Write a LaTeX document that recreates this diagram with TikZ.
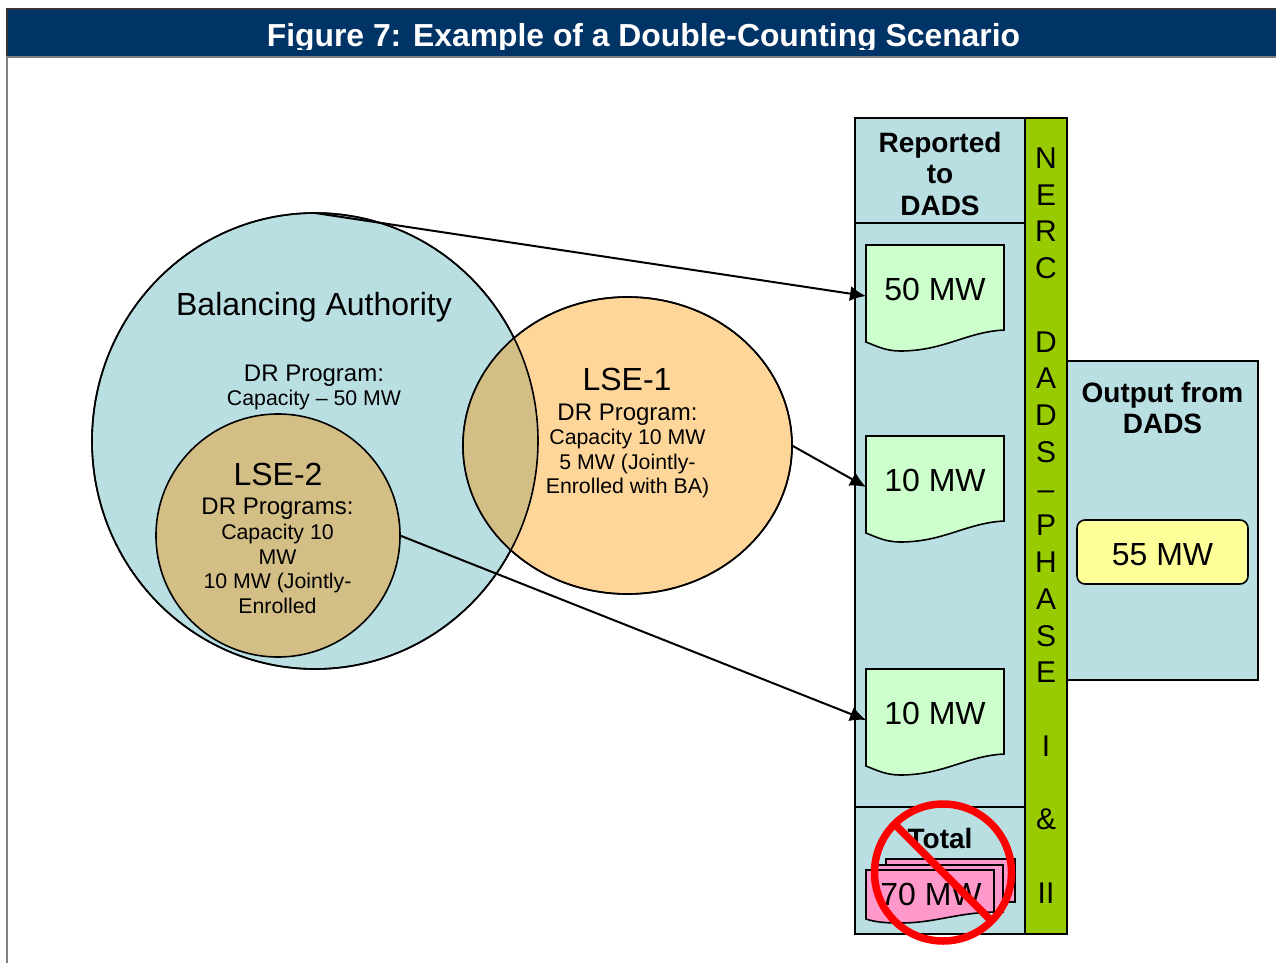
\documentclass[tikz,border=0pt]{standalone}
\usepackage{fontspec}
\setmainfont{Liberation Sans}
\usepackage{tikz}
\usetikzlibrary{calc,shapes.geometric,arrows.meta}

\definecolor{bandblue}{HTML}{003366}
\definecolor{panelblue}{HTML}{B9DFE3}
\definecolor{lseorange}{HTML}{FFD699}
\definecolor{lsetan}{HTML}{D3BE85}
\definecolor{stripgreen}{HTML}{99CC00}
\definecolor{docgreen}{HTML}{CCFFCC}
\definecolor{docpink}{HTML}{FF99CC}
\definecolor{boxyellow}{HTML}{FFFF99}

\tikzset{
    outline/.style={draw=black,line width=1.6pt},
    bigtext/.style={font=\fontsize{32}{36}\selectfont,align=center,inner sep=0pt},
    smalltext/.style={font=\fontsize{21.3}{24.6}\selectfont,align=center,inner sep=0pt},
    headtext/.style={font=\fontsize{28}{31.5}\selectfont\bfseries,align=center,inner sep=0pt},
    link/.style={line width=2pt,-{Latex[length=16pt,width=15pt]}},
    docbox/.style={minimum width=138pt,minimum height=102pt,inner sep=0pt,outer sep=0pt,font=\fontsize{32}{36}\selectfont},
    region/.style={ellipse,inner sep=0pt,outer sep=0pt,outline}
}

% first line of a region text is set larger
\newcommand{\leadline}[1]{{\fontsize{24}{24.6}\selectfont #1}}

% wavy sheet, top left corner at #1,#2
\newcommand{\sheet}[3]{%
    \begin{scope}[shift={(#1,#2)}]
        \filldraw[outline,fill=#3] (0,0) -- (138,0) -- (138,85)
            .. controls (100,87) and (78,106) .. (34,106)
            .. controls (20,106) and (10,101) .. (0,97) -- cycle;
    \end{scope}
}

\begin{document}
\begin{tikzpicture}[x=1pt,y=-1pt]
    \useasboundingbox (0,0) rectangle (1276,963);

    % header band
    \draw[line width=2pt,draw=gray] (7,963) -- (7,57) -- (1276,57);
    \fill[bandblue] (7,9) rectangle (1276,56);
    \draw[line width=1.2pt,draw=black!80] (7,56) -- (7,9) -- (1276,9);
    \begin{scope}
        \clip (7,9) rectangle (1276,50);
        \node (title) at (643.5,38) [font=\fontsize{31.85}{36}\selectfont\bfseries,text=white,inner sep=0pt] {Figure 7: Example of a Double-Counting Scenario};
    \end{scope}

    % panels
    \filldraw[outline,fill=panelblue] (855,118) rectangle (1025,934);
    \draw[outline] (855,223) -- (1025,223);
    \draw[outline] (855,807) -- (1025,807);
    \filldraw[outline,fill=panelblue] (1067,361) rectangle (1258,680);
    \filldraw[outline,fill=stripgreen] (1025,118) rectangle (1067,934);

    \node (reported) at (940,173.5) [headtext] {Reported\\to\\DADS};
    \node (output) at (1162.5,408) [headtext] {Output from\\DADS};
    \node (nerc) at (1046,525.5) [font=\fontsize{30}{36.75}\selectfont,align=center,inner sep=0pt]
        {N\\E\\R\\C\\[36.75pt]D\\A\\D\\S\\–\\P\\H\\A\\S\\E\\[36.75pt]I\\[36.75pt]\&\\[36.75pt]II};

    % sheets
    \sheet{866}{245}{docgreen}
    \node (doctop) at (935,296) [docbox] {\raisebox{14pt}{50 MW}};
    \sheet{866}{436}{docgreen}
    \node (docmid) at (935,487) [docbox] {\raisebox{14pt}{10 MW}};
    \sheet{866}{669}{docgreen}
    \node (doclow) at (935,720) [docbox] {\raisebox{14pt}{10 MW}};

    \node (yellowbox) at (1162.5,552) [outline,fill=boxyellow,rounded corners=8pt,minimum width=171pt,minimum height=64pt,inner sep=0pt,text height=27pt,font=\fontsize{32}{36}\selectfont] {55 MW};

    % regions
    \node (ba) at (315,441) [region,fill=panelblue,minimum width=446pt,minimum height=456pt] {};
    \node (lseone) at (627.5,445.5) [region,fill=lseorange,minimum width=329pt,minimum height=297pt] {};
    \begin{scope}
        \clip (315,441) ellipse (223 and 228);
        \fill[lsetan] (627.5,445.5) ellipse (164.5 and 148.5);
    \end{scope}
    \draw[outline] (315,441) ellipse (223 and 228);
    \draw[outline] (627.5,445.5) ellipse (164.5 and 148.5);
    \node (lsetwo) at (278,535.5) [region,fill=lsetan,minimum width=244pt,minimum height=243pt] {};

    \node (batitle) at (314,307) [bigtext] {Balancing Authority};
    \node (batext) at (314,387.5) [smalltext] {\leadline{DR Program:}\\Capacity – 50 MW};
    \node (onetitle) at (627,379) [bigtext] {LSE-1};
    \node (onetext) at (627.5,451) [smalltext] {\leadline{DR Program:}\\Capacity 10 MW\\5 MW (Jointly-\\Enrolled with BA)};
    \node (twotitle) at (278,474) [bigtext] {LSE-2};
    \node (twotext) at (277.5,556) [smalltext] {\leadline{DR Programs:}\\Capacity 10\\MW\\10 MW (Jointly-\\Enrolled};

    \draw[link] (ba.north) -- (doctop.west);
    \draw[link] (lseone.east) -- (docmid.west);
    \draw[link] (lsetwo.east) -- (doclow.west);

    % total
    \node (total) at (940,838) [headtext] {Total};
    \filldraw[outline,fill=docpink] (886,859) rectangle (1015,902);
    \filldraw[outline,fill=docpink] (876,865) rectangle (1003,912);
    \filldraw[outline,fill=docpink] (866,870) -- (994,870) -- (994,912)
        .. controls (955,913) and (935,923) .. (900,923)
        .. controls (885,923) and (875,922) .. (866,919) -- cycle;
    \node (seventy) at (931,894) [bigtext] {70 MW};

    % crossed out
    \node (nosign) at (943,872.5) [circle,draw=red,line width=7.5pt,minimum size=137pt,inner sep=0pt,outer sep=0pt] {};
    \draw[red,line width=7.5pt] (nosign.135) -- (nosign.-45);
\end{tikzpicture}
\end{document}
